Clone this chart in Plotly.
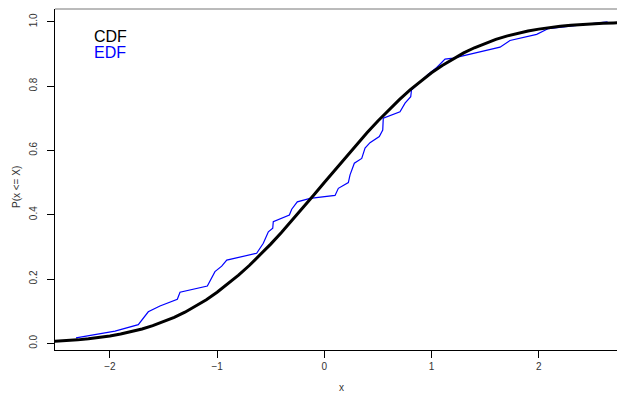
import plotly.graph_objects as go

# Theoretical CDF
cdf_x = [-2.6, -2.5, -2.4, -2.3, -2.2, -2.1, -2.0, -1.9, -1.8, -1.7, -1.6, -1.5, -1.4, -1.3,
         -1.2, -1.1, -1.0, -0.9, -0.8, -0.7, -0.6, -0.5, -0.4, -0.3, -0.2, -0.1, 0.0,
         0.1, 0.2, 0.3, 0.4, 0.5, 0.6, 0.7, 0.8, 0.9, 1.0, 1.1, 1.2, 1.3, 1.4, 1.5, 1.6,
         1.7, 1.8, 1.9, 2.0, 2.1, 2.2, 2.3, 2.4, 2.5, 2.6, 2.7, 2.8]
cdf_y = [0.0047, 0.0062, 0.0082, 0.0107, 0.0139, 0.0179, 0.0228, 0.0287, 0.0359, 0.0446,
         0.0548, 0.0668, 0.0808, 0.0968, 0.1151, 0.1357, 0.1587, 0.1841, 0.2119, 0.2420,
         0.2743, 0.3085, 0.3446, 0.3821, 0.4207, 0.4602, 0.5000, 0.5398, 0.5793, 0.6179,
         0.6554, 0.6915, 0.7257, 0.7580, 0.7881, 0.8159, 0.8413, 0.8643, 0.8849, 0.9032,
         0.9192, 0.9332, 0.9452, 0.9554, 0.9641, 0.9713, 0.9772, 0.9821, 0.9861, 0.9893,
         0.9918, 0.9938, 0.9953, 0.9965, 0.9974]

edf_x = [-2.316, -1.952, -1.735, -1.642, -1.533, -1.371, -1.346, -1.091, -1.020, -0.957,
         -0.910, -0.631, -0.569, -0.522, -0.481, -0.476, -0.326, -0.304, -0.252, -0.133,
         0.100, 0.131, 0.224, 0.240, 0.280, 0.349, 0.380, 0.426, 0.513, 0.545, 0.550,
         0.706, 0.753, 0.806, 0.813, 0.893, 0.967, 1.049, 1.126, 1.203, 1.639, 1.732,
         1.981, 2.090, 2.642]
edf_y = [0.017, 0.038, 0.058, 0.098, 0.116, 0.137, 0.159, 0.178, 0.223, 0.240,
         0.259, 0.280, 0.311, 0.347, 0.358, 0.378, 0.399, 0.417, 0.440, 0.451,
         0.460, 0.482, 0.500, 0.524, 0.560, 0.575, 0.607, 0.624, 0.643, 0.663, 0.700,
         0.720, 0.747, 0.767, 0.788, 0.814, 0.836, 0.858, 0.884, 0.887, 0.921, 0.942,
         0.961, 0.979, 1.000]

x_ticks = [-2, -1, 0, 1, 2]
x_tick_labels = ["\u22122", "\u22121", "0", "1", "2"]
y_ticks = [0.0, 0.2, 0.4, 0.6, 0.8, 1.0]
y_tick_labels = ["0.0", "0.2", "0.4", "0.6", "0.8", "1.0"]

FONT = "Liberation Sans, Arial, Helvetica, sans-serif"

fig = go.Figure()
fig.add_trace(go.Scatter(x=edf_x, y=edf_y, mode="lines",
                         line=dict(color="#0000FF", width=1.2), showlegend=False))
fig.add_trace(go.Scatter(x=cdf_x, y=cdf_y, mode="lines",
                         line=dict(color="black", width=3), showlegend=False))

fig.update_layout(
    width=617, height=394,
    margin=dict(l=55, r=0, t=9, b=44),
    paper_bgcolor="white", plot_bgcolor="white",
    font=dict(family=FONT, color="#333333", size=10),
    xaxis=dict(range=[-2.512, 2.730], showgrid=False, zeroline=False, automargin=False,
               showline=True, linecolor="black", linewidth=1,
               ticks="outside", ticklen=7, tickcolor="black",
               tickvals=x_ticks, ticktext=x_tick_labels,
               tickfont=dict(size=10, color="#333333")),
    yaxis=dict(range=[-0.0208, 1.0398], showgrid=False, zeroline=False, automargin=False,
               showline=True, linecolor="black", linewidth=1,
               ticks="outside", ticklen=7, tickcolor="black",
               tickvals=y_ticks, ticktext=y_tick_labels, tickangle=-90,
               ticklabelstandoff=6,
               tickfont=dict(size=10, color="#333333")),
    shapes=[dict(type="line", xref="paper", yref="paper", x0=0, x1=1, y0=1, y1=1,
                 line=dict(color="#777777", width=1))],
    annotations=[
        dict(text="x", xref="paper", yref="paper", x=0.510, y=-0.110,
             showarrow=False, xanchor="center", yanchor="middle",
             font=dict(size=10, color="#333333")),
        dict(text="P(x <= X)", xref="paper", yref="paper", x=-0.0694, y=0.478,
             showarrow=False, xanchor="center", yanchor="middle", textangle=-90,
             font=dict(size=10, color="#333333")),
        dict(text="CDF", xref="paper", yref="paper", x=0.0653, y=0.918,
             showarrow=False, xanchor="left", yanchor="middle",
             font=dict(size=16, color="black")),
        dict(text="EDF", xref="paper", yref="paper", x=0.0653, y=0.871,
             showarrow=False, xanchor="left", yanchor="middle",
             font=dict(size=16, color="#0000FF")),
    ],
)

fig.write_html("out.html", config={"displayModeBar": False},
               post_script="document.body.style.margin='0';document.body.style.overflow='hidden';")
